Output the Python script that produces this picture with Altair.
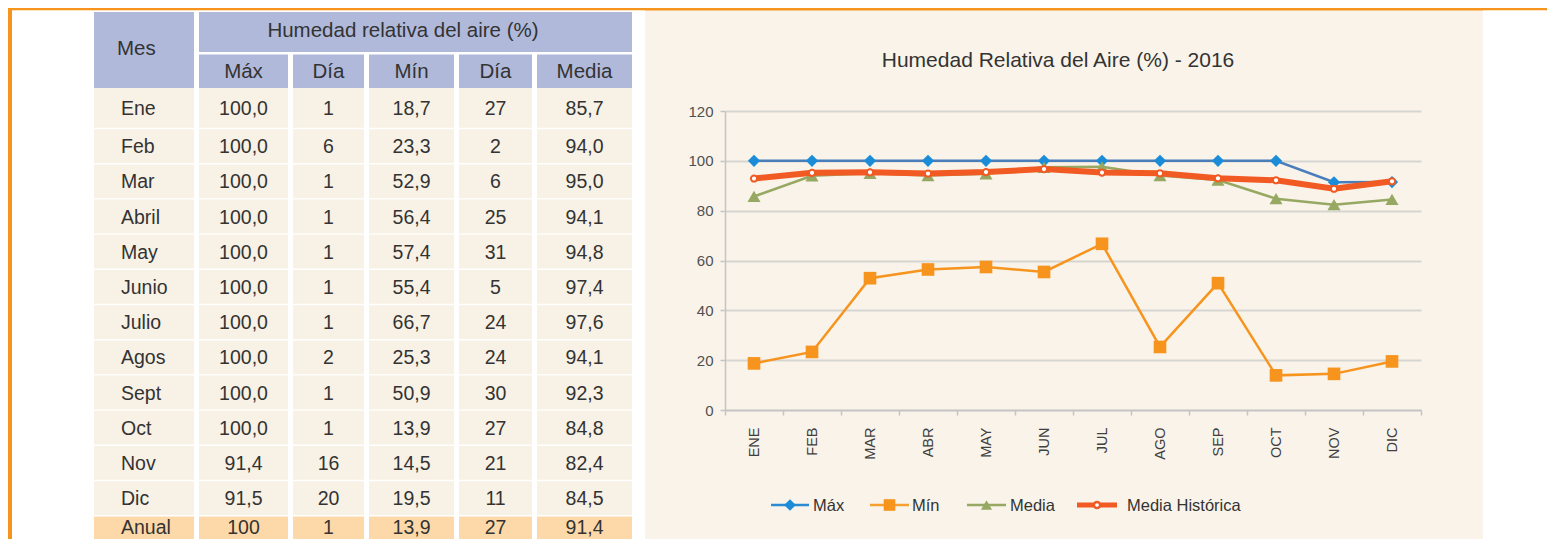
import altair as alt
import pandas as pd

# ---------------- data ----------------
MESES_TABLA = ["Ene", "Feb", "Mar", "Abril", "May", "Junio", "Julio",
               "Agos", "Sept", "Oct", "Nov", "Dic"]
MESES_EJE = ["ENE", "FEB", "MAR", "ABR", "MAY", "JUN", "JUL", "AGO",
             "SEP", "OCT", "NOV", "DIC"]
HR_MAX = [100.0, 100.0, 100.0, 100.0, 100.0, 100.0, 100.0, 100.0, 100.0, 100.0, 91.4, 91.5]
DIA_MAX = [1, 6, 1, 1, 1, 1, 1, 2, 1, 1, 16, 20]
HR_MIN = [18.7, 23.3, 52.9, 56.4, 57.4, 55.4, 66.7, 25.3, 50.9, 13.9, 14.5, 19.5]
DIA_MIN = [27, 2, 6, 25, 31, 5, 24, 24, 30, 27, 21, 11]
HR_MEDIA = [85.7, 94.0, 95.0, 94.1, 94.8, 97.4, 97.6, 94.1, 92.3, 84.8, 82.4, 84.5]
HR_MEDIA_HIST = [92.9, 95.2, 95.4, 94.9, 95.5, 96.7, 95.3, 95.0, 93.0, 92.2, 88.8, 91.8]
ANUAL_LABEL = "Anual"
ANUAL = ["100", "1", "13,9", "27", "91,4"]
SERIES = ["Máx", "Mín", "Media", "Media Histórica"]
COLUMNAS = ["Máx", "Día", "Mín", "Día", "Media"]
Y_TICKS = [0, 20, 40, 60, 80, 100, 120]
TITULO_TABLA = "Humedad relativa del aire (%)"
TITULO_MES = "Mes"
TITULO_GRAFICO = "Humedad Relativa del Aire (%) - 2016"

# ---------------- styles / layout ----------------
FONT = "Liberation Sans, Arial, Helvetica, sans-serif"
ORANGE = "#F7941D"
PANEL = "#F9F3EA"
HEADER_BLUE = "#B0B9DA"
ROW_BEIGE = "#F8F1E6"
ANUAL_FILL = "#FDD9A9"
TXT = "#333333"
LINE_COLORS = ["#4A7EBB", "#F7941D", "#97A862", "#F15A22"]
MARK_FILL = ["#1A8CD8", "#F7941D", "#97A862", "#FFFFFF"]
MARK_STROKE = ["#1A8CD8", "#F7941D", "#97A862", "#F15A22"]
MARK_SHAPE = ["diamond", "square", "triangle-up", "circle"]
MARK_SIZE = [150, 160, 170, 38]
MARK_SW = [0, 0, 0, 2]
LINE_W = [2.5, 2.5, 2.5, 6]
LEG_LINE_COLORS = ["#2A8AD4", "#F7A030", "#97A862", "#F15A22"]
LEG_LINE_W = [2.5, 2.5, 2.5, 5]
LEG_SIZE = [135, 135, 125, 38]
LEG_SW = [0, 0, 0, 2.5]
LEG_SYMBOL_X = [(771, 809), (870, 909), (967, 1006), (1077, 1117)]   # page px
LEG_LABEL_X = [813, 912, 1010, 1127]
LEG_Y = 505

PLOT_X0, PLOT_Y0 = 725, 111      # page position of the plot area
PLOT_W, PLOT_H = 696, 299
CANVAS_R, CANVAS_B = 1547, 539   # page right / bottom of the canvas

COL_X = [(94, 194), (199, 288), (293, 364), (369, 454), (459, 532), (537, 632)]
HDR1 = (12, 52)
HDR2 = (54.5, 88)
ROW_TOP0, ROW1_TOP, ROW_PITCH = 88, 128.5, 35.2
LAST_ROW_TEXT_Y = 527.5


def fmt(v):
    return f"{v:.1f}".replace(".", ",")


def row_span(i):
    top = ROW_TOP0 if i == 0 else ROW1_TOP + (i - 1) * ROW_PITCH + 0.7
    bot = ROW1_TOP - 0.7 if i == 0 else ROW1_TOP + i * ROW_PITCH - 0.7
    return top, bot


# ---------------- page-pixel layer (frame + table + legend) ----------------
cells = [
    dict(x0=8, x1=CANVAS_R, y0=8, y1=10.5, c=ORANGE),
    dict(x0=8, x1=12, y0=8, y1=CANVAS_B, c=ORANGE),
    dict(x0=12, x1=645, y0=10.5, y1=CANVAS_B, c="#FFFFFF"),
    dict(x0=1483, x1=CANVAS_R, y0=10.5, y1=CANVAS_B, c="#FFFFFF"),
]
texts = []

# header
cells.append(dict(x0=COL_X[0][0], x1=COL_X[0][1], y0=HDR1[0], y1=HDR2[1], c=HEADER_BLUE))
cells.append(dict(x0=COL_X[1][0], x1=COL_X[5][1], y0=HDR1[0], y1=HDR1[1], c=HEADER_BLUE))
texts.append(dict(tx=COL_X[0][0] + 23, ty=49, label=TITULO_MES, fs=20.5, al="left"))
texts.append(dict(tx=403, ty=31, label=TITULO_TABLA, fs=20.5, al="center"))
for (x0, x1), name in zip(COL_X[1:], COLUMNAS):
    cells.append(dict(x0=x0, x1=x1, y0=HDR2[0], y1=HDR2[1], c=HEADER_BLUE))
    texts.append(dict(tx=(x0 + x1) / 2, ty=(HDR2[0] + HDR2[1]) / 2 + 1, label=name, fs=20.5, al="center"))

# body
rows = []
for i, m in enumerate(MESES_TABLA):
    rows.append((m, [fmt(HR_MAX[i]), str(DIA_MAX[i]), fmt(HR_MIN[i]), str(DIA_MIN[i]), fmt(HR_MEDIA[i])], ROW_BEIGE))
rows.append((ANUAL_LABEL, ANUAL, ANUAL_FILL))
for i, (m, vals, fill) in enumerate(rows):
    top, bot = row_span(i)
    cy = (top + bot) / 2 + 1
    if i == len(rows) - 1:
        cy = LAST_ROW_TEXT_Y
    for (x0, x1) in COL_X:
        cells.append(dict(x0=x0, x1=x1, y0=top, y1=min(bot, CANVAS_B), c=fill))
    texts.append(dict(tx=COL_X[0][0] + 27, ty=cy, label=m, fs=19.5, al="left"))
    for (x0, x1), v in zip(COL_X[1:], vals):
        texts.append(dict(tx=(x0 + x1) / 2, ty=cy, label=v, fs=19.5, al="center"))

texts.append(dict(tx=1058, ty=61, label=TITULO_GRAFICO, fs=21, al="center"))
for s, lx in zip(SERIES, LEG_LABEL_X):
    texts.append(dict(tx=lx, ty=LEG_Y + 1, label=s, fs=16.5, al="left"))

cells_df = pd.DataFrame(cells)
texts_df = pd.DataFrame(texts)
legend_df = pd.DataFrame({
    "serie": SERIES,
    "x0": [a for a, _ in LEG_SYMBOL_X],
    "x1": [b for _, b in LEG_SYMBOL_X],
    "xc": [(a + b) / 2 for a, b in LEG_SYMBOL_X],
    "y": [LEG_Y] * 4,
    "lc": LEG_LINE_COLORS,
    "lw": LEG_LINE_W,
    "fill": MARK_FILL,
    "stroke": MARK_STROKE,
    "shape": MARK_SHAPE,
    "size": LEG_SIZE,
    "msw": LEG_SW,
})

px = alt.Scale(domain=[0, 1000], range=[-PLOT_X0, 1000 - PLOT_X0], nice=False, zero=False)
py = alt.Scale(domain=[0, 1000], range=[-PLOT_Y0, 1000 - PLOT_Y0], nice=False, zero=False)

rect_layer = alt.Chart(cells_df).mark_rect(strokeWidth=0).encode(
    x=alt.X("x0:Q", scale=px, axis=None),
    x2="x1:Q",
    y=alt.Y("y0:Q", scale=py, axis=None),
    y2="y1:Q",
    fill=alt.Fill("c:N", scale=None),
)


def text_layer(al):
    return alt.Chart(texts_df).transform_filter(alt.datum.al == al).mark_text(
        font=FONT, align=al, baseline="middle", color=TXT
    ).encode(
        x=alt.X("tx:Q", scale=px, axis=None),
        y=alt.Y("ty:Q", scale=py, axis=None),
        text="label:N",
        size=alt.Size("fs:Q", scale=None),
    )


legend_lines = alt.Chart(legend_df).mark_rule().encode(
    x=alt.X("x0:Q", scale=px, axis=None),
    x2="x1:Q",
    y=alt.Y("y:Q", scale=py, axis=None),
    stroke=alt.Stroke("lc:N", scale=None),
    strokeWidth=alt.StrokeWidth("lw:Q", scale=None),
)
legend_marks = alt.Chart(legend_df).mark_point(opacity=1).encode(
    x=alt.X("xc:Q", scale=px, axis=None),
    y=alt.Y("y:Q", scale=py, axis=None),
    fill=alt.Fill("fill:N", scale=None),
    stroke=alt.Stroke("stroke:N", scale=None),
    shape=alt.Shape("shape:N", scale=None),
    size=alt.Size("size:Q", scale=None),
    strokeWidth=alt.StrokeWidth("msw:Q", scale=None),
)

pixel_layer = alt.layer(rect_layer, text_layer("left"), text_layer("center"),
                        legend_lines, legend_marks)

# ---------------- line chart ----------------
long = pd.DataFrame({
    "mes": MESES_EJE * 4,
    "serie": [s for s in SERIES for _ in MESES_EJE],
    "valor": HR_MAX + HR_MIN + HR_MEDIA + HR_MEDIA_HIST,
})

x_enc = alt.X(
    "mes:N", sort=MESES_EJE, bandPosition=0.5,
    scale=alt.Scale(type="band", domain=MESES_EJE, paddingInner=0, paddingOuter=0),
    axis=alt.Axis(title=None, tickBand="extent", labelAngle=270, labelFont=FONT,
                  labelFontSize=14.5, labelColor="#404040", labelPadding=12,
                  tickSize=5, tickColor="#C4C4C4", tickWidth=1.5,
                  domainColor="#C4C4C4", domainWidth=1.5, grid=False),
)
y_enc = alt.Y(
    "valor:Q", scale=alt.Scale(domain=[0, 120], nice=False),
    axis=alt.Axis(title=None, values=Y_TICKS, grid=True, gridColor="#D7D5D2", gridWidth=2,
                  tickSize=5, tickColor="#C4C4C4", tickWidth=1.5, domainColor="#C4C4C4",
                  domainWidth=1.5, labelFont=FONT, labelFontSize=15, labelColor="#505050",
                  labelPadding=7),
)

stroke_enc = alt.Stroke("serie:N", scale=alt.Scale(domain=SERIES, range=LINE_COLORS), legend=None)

chart_layers = []
for i, s in enumerate(SERIES):
    base = alt.Chart(long).transform_filter(alt.datum.serie == s)
    chart_layers.append(base.mark_line(strokeWidth=LINE_W[i]).encode(x=x_enc, y=y_enc, stroke=stroke_enc))
    chart_layers.append(base.mark_point(
        filled=True, opacity=1, shape=MARK_SHAPE[i], size=MARK_SIZE[i],
        fill=MARK_FILL[i], stroke=MARK_STROKE[i], strokeWidth=MARK_SW[i],
    ).encode(x=x_enc, y=y_enc))

chart_layer = alt.layer(*chart_layers)

chart = alt.layer(pixel_layer, chart_layer).resolve_scale(
    x="independent", y="independent"
).properties(
    width=PLOT_W, height=PLOT_H,
    autosize=alt.AutoSizeParams(type="none"),
    padding={"left": PLOT_X0 - 8, "top": PLOT_Y0 - 8,
             "right": CANVAS_R - (PLOT_X0 + PLOT_W), "bottom": CANVAS_B - (PLOT_Y0 + PLOT_H)},
    background=PANEL,
).configure_view(strokeWidth=0)

chart.save("out.html", embed_options={"renderer": "svg", "actions": False})
